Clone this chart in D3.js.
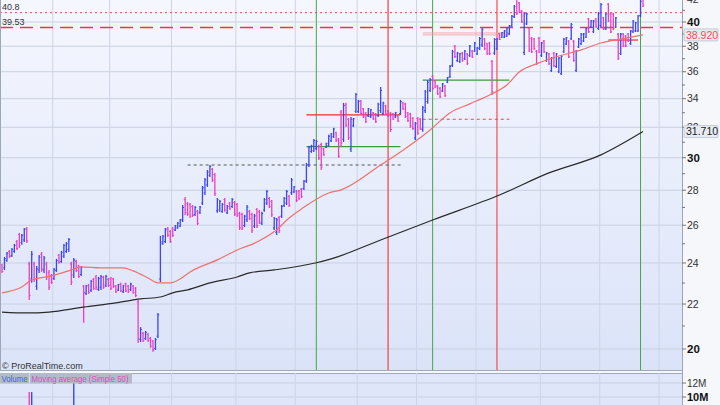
<!DOCTYPE html>
<html><head><meta charset="utf-8">
<script src="https://cdn.jsdelivr.net/npm/d3@7"></script>
<style>body{margin:0;background:#fff;}svg{display:block;font-family:"Liberation Sans",Arial,sans-serif;}</style>
</head><body><svg id="c" width="720" height="405"></svg>
<script>
const opens = [
23.90,23.75,24.12,24.60,24.38,24.60,25.10,25.50,25.05,25.20,
25.80,23.95,23.20,23.95,22.85,23.65,24.45,23.65,23.95,23.50,
23.38,23.22,23.62,24.40,24.08,24.35,24.60,24.70,23.95,23.40,
24.08,23.85,23.42,22.85,22.50,22.90,22.65,23.18,23.30,22.70,
22.80,23.28,22.90,23.18,23.22,23.20,22.86,22.66,22.95,22.58,
22.96,22.85,22.68,22.86,22.75,22.10,20.40,20.68,20.45,20.63,
20.45,20.33,20.02,20.55,23.20,25.00,25.12,25.82,25.66,25.80,
25.74,25.85,25.96,26.30,27.45,27.22,27.15,27.05,26.60,26.78,
26.70,27.25,27.85,28.32,28.90,29.28,28.95,26.80,26.85,26.76,
27.45,26.70,27.25,27.05,27.28,27.18,26.65,26.60,25.98,26.30,
26.78,26.60,25.95,26.88,26.75,26.10,26.85,27.25,27.52,27.35,
25.85,25.60,26.42,26.50,27.10,27.25,27.65,27.85,27.90,27.95,
27.95,28.06,28.10,
28.55,29.55,30.40,30.45,30.58,30.75,30.85,30.57,30.68,30.78,
31.10,31.36,31.62,31.20,33.05,31.20,33.60,32.55,30.55,32.10,
33.10,33.08,33.82,33.28,32.98,32.78,32.72,33.00,32.92,32.80,
33.15,32.95,33.48,33.14,32.98,32.92,32.70,32.78,32.95,33.70,
33.62,32.98,32.90,32.62,31.28,32.60,32.55,31.85,33.15,33.80,
34.60,35.65,35.30,34.92,34.76,34.56,34.92,35.22,35.62,36.50,
38.00,36.85,36.78,37.46,37.00,37.38,37.25,37.62,37.62,37.38,
37.80,38.10,38.58,38.18,38.25,36.80,37.45,37.80,39.02,38.72,
38.74,38.82,39.00,39.68,40.45,42.00,41.65,40.95,37.50,39.85,
39.48,38.65,38.58,37.60,38.65,37.25,38.42,36.85,37.38,36.08,
37.45,36.40,36.00,35.85,37.55,38.18,38.42,38.60,38.40,36.10,
37.94,38.20,38.42,38.74,40.25,39.58,39.18,40.26,39.45,39.70,
40.35,39.42,41.55,40.68,40.68,39.58,38.98,37.42,39.00,38.84,
39.00,38.20,39.18,39.25,39.25,40.55,42.20];
const highs = [
23.96,24.31,24.57,24.67,24.78,24.99,25.20,25.58,25.52,25.85,
25.90,24.06,24.62,24.06,23.85,24.41,24.57,24.36,24.06,23.65,
23.45,23.75,24.21,24.46,24.62,24.99,25.09,25.31,24.06,24.26,
24.16,23.91,23.85,22.91,22.91,22.96,23.15,23.25,23.40,23.30,
23.40,23.35,23.40,23.25,23.30,23.25,22.91,22.96,23.01,22.91,
23.01,22.91,23.01,22.91,22.81,22.19,20.95,20.73,20.78,20.69,
20.52,20.39,20.47,21.59,25.42,25.47,25.85,25.90,25.74,25.90,
26.01,26.18,26.35,27.14,27.60,27.31,27.26,27.14,27.08,26.86,
27.08,28.26,28.74,29.23,29.54,29.35,29.05,27.54,27.43,27.26,
27.54,27.14,27.31,27.54,27.37,27.26,26.75,26.69,26.58,27.14,
26.86,26.69,26.63,26.97,26.86,26.75,27.54,28.02,27.60,27.43,
26.46,26.40,26.52,27.14,27.60,28.02,27.72,28.74,28.26,28.02,
28.02,28.14,28.62,
29.67,30.76,30.83,31.22,31.15,30.83,30.96,30.63,30.96,31.49,
31.62,31.96,31.69,31.28,33.20,33.70,33.70,32.64,32.71,32.64,
34.41,33.91,33.91,33.34,33.06,33.34,33.27,33.06,32.99,33.70,
34.85,33.77,33.56,33.20,33.06,32.99,33.06,32.85,33.91,33.77,
33.70,33.06,32.99,32.71,32.36,32.71,32.64,33.48,34.63,35.37,
35.52,35.75,35.37,35.00,34.85,35.15,35.00,35.60,36.52,37.70,
38.10,37.54,37.46,37.54,37.70,37.46,38.10,37.70,38.34,37.94,
38.75,39.50,38.66,38.26,38.34,36.91,38.66,38.66,39.08,39.16,
39.33,39.58,39.75,40.60,41.47,42.18,41.73,41.03,40.86,40.77,
39.58,38.75,38.66,37.70,38.75,38.34,38.50,37.54,37.46,37.14,
37.54,37.46,37.14,37.30,38.66,38.75,38.50,39.92,38.50,37.70,
38.66,39.08,39.08,39.50,40.34,40.17,40.17,40.34,40.86,41.64,
40.43,40.77,41.64,40.77,40.77,40.43,39.08,39.08,39.08,38.92,
39.08,39.33,40.17,40.00,40.60,41.91,42.35];
const lows = [
23.50,23.65,24.06,24.26,24.31,24.52,24.67,24.78,24.94,25.09,
25.04,22.19,23.01,23.05,22.67,23.50,23.55,23.50,23.15,22.67,
22.96,23.15,23.55,23.96,24.01,24.26,24.52,24.57,22.91,23.25,
23.55,23.25,23.35,21.14,22.43,22.48,22.57,22.67,22.67,22.62,
22.67,22.72,22.81,22.81,22.67,22.77,22.52,22.62,22.57,22.52,
22.57,22.52,22.62,22.48,22.33,20.26,20.30,20.30,20.39,20.30,
20.05,19.88,19.96,20.47,23.05,24.94,25.04,25.36,25.04,25.36,
25.69,25.80,25.90,26.18,26.57,26.52,26.40,26.46,26.52,26.01,
26.63,27.14,27.72,28.20,28.80,28.50,27.66,26.69,26.75,26.69,
26.75,26.63,26.86,26.97,26.52,26.46,25.74,25.74,25.90,26.18,
26.29,25.58,25.85,25.85,26.07,26.01,26.75,27.14,26.97,26.46,
25.74,25.47,25.58,26.40,27.03,27.14,27.03,27.72,27.84,27.31,
27.43,27.54,28.02,
28.44,29.42,30.31,30.37,30.50,29.86,29.23,30.12,30.63,30.70,
31.02,31.28,31.02,29.99,30.70,31.02,32.02,31.15,30.37,32.02,
32.99,32.99,32.85,32.64,32.29,32.71,32.64,32.50,32.29,32.71,
32.99,32.85,32.85,32.71,31.69,32.50,32.64,32.36,32.85,33.20,
32.64,32.36,31.96,31.82,31.15,31.49,31.82,31.69,32.99,33.63,
34.48,34.63,34.78,34.27,34.05,34.48,34.12,35.15,35.52,36.37,
37.06,36.76,36.68,36.76,36.91,36.52,37.14,37.06,37.54,37.30,
37.70,37.94,37.70,37.30,37.30,34.27,37.30,37.70,38.50,38.66,
38.66,38.75,38.92,39.58,40.34,40.60,40.77,39.92,37.30,39.75,
37.54,37.46,37.70,36.52,37.46,37.14,37.46,36.76,36.52,35.98,
36.37,36.29,35.90,35.75,37.46,38.10,37.06,38.50,36.76,35.98,
37.86,38.10,38.34,38.66,39.08,39.50,39.08,39.50,39.33,39.58,
39.33,39.33,40.00,39.08,39.33,39.50,36.91,37.30,37.94,37.94,
38.34,38.10,39.08,39.16,39.16,40.43,41.30];
const closes = [
23.58,24.22,24.50,24.33,24.70,24.92,24.75,24.90,25.45,25.78,
25.15,22.40,24.45,23.20,23.70,24.30,23.70,24.25,23.30,22.80,
23.02,23.68,24.12,24.02,24.55,24.90,25.00,25.22,23.05,24.15,
23.62,23.32,23.78,22.55,22.85,22.55,23.08,22.75,22.80,23.22,
23.32,22.80,23.33,22.88,22.75,22.85,22.58,22.92,22.63,22.86,
22.62,22.58,22.95,22.55,22.40,20.45,20.85,20.36,20.72,20.36,
20.12,19.95,20.40,21.50,25.10,25.40,25.75,25.45,25.12,25.45,
25.96,26.12,26.28,27.00,26.70,26.62,26.50,26.55,27.00,26.10,
27.02,28.15,28.62,29.10,29.45,28.60,27.80,27.45,27.35,27.18,
26.85,27.06,26.92,27.46,26.62,26.55,25.85,25.85,26.50,27.02,
26.36,25.70,26.52,25.98,26.18,26.66,27.45,27.92,27.05,26.58,
26.38,26.30,25.70,27.05,27.52,27.92,27.12,28.62,28.20,27.40,
27.50,27.62,28.55,
29.55,30.65,30.75,31.12,31.06,29.98,29.40,30.18,30.92,31.40,
31.55,31.88,31.10,30.10,30.95,33.50,32.15,31.30,32.55,32.58,
34.30,33.82,32.95,32.72,32.38,33.28,33.20,32.56,32.38,33.60,
34.60,33.68,32.92,32.78,31.85,32.56,33.00,32.42,33.80,33.28,
32.75,32.45,32.08,31.92,32.25,31.60,31.92,33.35,34.50,35.20,
35.40,34.75,34.85,34.35,34.14,35.08,34.22,35.54,36.40,37.55,
37.18,37.45,37.38,36.85,37.62,36.62,38.00,37.14,38.25,37.86,
38.62,39.35,37.80,37.40,37.40,34.50,38.55,38.58,38.56,39.10,
39.25,39.50,39.66,40.50,41.35,40.75,40.85,40.00,40.70,40.68,
37.70,37.55,37.80,36.62,37.55,38.25,37.55,37.46,36.62,37.05,
36.46,37.38,37.05,37.20,38.56,38.68,37.15,39.80,36.88,37.60,
38.58,38.98,39.00,39.42,39.18,40.10,40.08,39.58,40.75,41.50,
39.42,40.68,40.10,39.18,39.42,40.35,37.05,38.98,38.02,38.02,
38.42,39.25,40.08,39.92,40.50,41.80,41.40];

const ma50Idx = [0,8,12,20,28,32,40,49,53,59,63,68,72,76,87,95,103,111,116,121,132,137,153,161,173,181,189,197,204,209,217,225,234,242,250,259];
const ma50Val = [22.53,22.81,23.15,23.35,23.65,23.80,23.75,23.75,23.60,23.25,23.01,23.01,23.20,23.55,24.16,24.67,25.09,25.75,26.40,26.91,27.84,28.02,29.54,30.37,31.82,32.99,33.63,34.27,35.00,35.98,36.68,37.22,37.70,38.26,38.58,38.92];
const ma200Idx = [0,10,19,33,46,56,64,69,75,84,95,100,110,127,133,153,174,201,221,242,259];
const ma200Val = [21.63,21.59,21.63,21.86,22.05,22.24,22.33,22.53,22.67,23.01,23.30,23.50,23.65,24.01,24.21,25.20,26.29,27.72,29.05,30.18,31.71];

const volIdx = [11,12,29];
const volVal = [10.7e6,10.7e6,13.4e6];

const priceTicks = d3.range(20,43);
const monthStarts = [21,44,69,95,119,144,168,192,218,242,266];
const eventIdx = [127,156,174,200,258];
const eventKind = ["green","red2","green","red","green"];
const segStart = [75,123,123,170,170,170,170,245];
const segEnd   = [162,161,161,205,205,205,205,257];
const segPrice = [29.54,30.71,32.85,35.37,32.55,39.08,38.92,38.50];
const segStyle = ["graydash","green","red","green","reddash","lightred","lightred","red"];
const fullLevels = [40.8,39.53];
const lastMa50 = "38.920", lastMa200 = "31.710";

const svg = d3.select("#c");
const W = 720, plotR = 682, priceB = 370, volT = 373, volB = 405;
const x = d3.scaleLinear().domain([0,259]).range([2,643]);
const y = d3.scaleLog().domain([20,40]).range([349,22]);
const yv = d3.scaleLinear().domain([10e6,12e6]).range([397,383]);

const defs = svg.append("defs");
const g1 = defs.append("linearGradient").attr("id","bg").attr("x1",0).attr("y1",0).attr("x2",0).attr("y2",1);
g1.append("stop").attr("offset","0%").attr("stop-color","#f5f7fe");
g1.append("stop").attr("offset","100%").attr("stop-color","#dbe3f9");
defs.append("clipPath").attr("id","cp").append("rect").attr("x",0).attr("y",0).attr("width",plotR).attr("height",priceB);
defs.append("clipPath").attr("id","cv").append("rect").attr("x",0).attr("y",volT).attr("width",plotR).attr("height",volB-volT);

svg.append("rect").attr("width",W).attr("height",405).attr("fill","#f6f7fa");
svg.append("rect").attr("x",0).attr("y",0).attr("width",plotR).attr("height",priceB).attr("fill","url(#bg)");
svg.append("rect").attr("x",0).attr("y",volT).attr("width",plotR).attr("height",volB-volT).attr("fill","#dfe6fa");

const P = svg.append("g").attr("clip-path","url(#cp)");
P.selectAll(".hg").data(priceTicks.filter(d=>d%2===0)).join("line")
 .attr("x1",0).attr("x2",plotR).attr("y1",d=>y(d)).attr("y2",d=>y(d))
 .attr("stroke","#c9d0e0").attr("stroke-width",1);
P.selectAll(".vg").data(monthStarts).join("line")
 .attr("x1",d=>x(d-0.5)).attr("x2",d=>x(d-0.5)).attr("y1",0).attr("y2",priceB)
 .attr("stroke","#cdd4e5").attr("stroke-width",1);

P.append("line").attr("x1",0).attr("x2",plotR).attr("y1",y(fullLevels[0])).attr("y2",y(fullLevels[0]))
 .attr("stroke","#f04848").attr("stroke-width",1).attr("stroke-dasharray","2,3");
P.append("line").attr("x1",0).attr("x2",plotR).attr("y1",y(fullLevels[1])).attr("y2",y(fullLevels[1]))
 .attr("stroke","#ff3535").attr("stroke-width",1.5).attr("stroke-dasharray","13,7");

const evColor = {green:"#4aa34a", red2:"#f24d4d", red:"#ff2a2a"};
const evWidth = {green:1, red2:1.3, red:1};
P.selectAll(".ev").data(eventIdx).join("line")
 .attr("x1",d=>x(d)).attr("x2",d=>x(d)).attr("y1",0).attr("y2",priceB)
 .attr("stroke",(d,i)=>evColor[eventKind[i]]).attr("stroke-width",(d,i)=>evWidth[eventKind[i]]);

const segSty = {
 graydash:{c:"#555",w:1.2,d:"3,3"}, green:{c:"#3c9c3c",w:1.2,d:null}, red:{c:"#f02a2a",w:1.2,d:null},
 reddash:{c:"#f04040",w:1.2,d:"3,3"}, lightred:{c:"#f5a0a0",w:0.9,d:null}};
segStart.forEach((s,i)=>{
  const st = segSty[segStyle[i]];
  P.append("line").attr("x1",x(s)).attr("x2",x(segEnd[i])).attr("y1",y(segPrice[i])).attr("y2",y(segPrice[i]))
   .attr("stroke",st.c).attr("stroke-width",st.w).attr("stroke-dasharray",st.d);
});

const bars = P.append("g");
const up = "#3c45f2", dn = "#f03cbe";
opens.forEach((o,i)=>{
  const c = closes[i] >= o ? up : dn;
  const xi = x(i);
  bars.append("line").attr("x1",xi).attr("x2",xi).attr("y1",y(highs[i])).attr("y2",y(lows[i])).attr("stroke",c).attr("stroke-width",1.3);
  bars.append("line").attr("x1",xi-1.3).attr("x2",xi).attr("y1",y(o)).attr("y2",y(o)).attr("stroke",c).attr("stroke-width",1);
  bars.append("line").attr("x1",xi).attr("x2",xi+1.3).attr("y1",y(closes[i])).attr("y2",y(closes[i])).attr("stroke",c).attr("stroke-width",1);
});

const ln = d3.line().x(d=>x(d[0])).y(d=>y(d[1])).curve(d3.curveMonotoneX);
P.append("path").attr("d",ln(ma200Idx.map((d,i)=>[d,ma200Val[i]]))).attr("fill","none").attr("stroke","#2a2a2a").attr("stroke-width",1.2);
P.append("path").attr("d",ln(ma50Idx.map((d,i)=>[d,ma50Val[i]]))).attr("fill","none").attr("stroke","#f07070").attr("stroke-width",1.2);

svg.append("text").attr("x",2).attr("y",y(fullLevels[0])-3).attr("font-size",9).attr("fill","#333").text("40.8");
svg.append("text").attr("x",2).attr("y",y(fullLevels[1])-3).attr("font-size",9).attr("fill","#333").text("39.53");
svg.append("text").attr("x",2).attr("y",369).attr("font-size",9).attr("fill","#333").text("\u00a9 ProRealTime.com");

svg.append("line").attr("x1",0.5).attr("x2",0.5).attr("y1",0).attr("y2",priceB).attr("stroke","#9aa8b8");
svg.append("line").attr("x1",plotR+0.5).attr("x2",plotR+0.5).attr("y1",0).attr("y2",405).attr("stroke","#9aa6b8");
svg.append("line").attr("x1",0).attr("x2",plotR).attr("y1",priceB+0.5).attr("y2",priceB+0.5).attr("stroke","#a0a9ba");
svg.append("line").attr("x1",0).attr("x2",plotR).attr("y1",volT+0.5).attr("y2",volT+0.5).attr("stroke","#a0a9ba");

const ax = svg.append("g");
ax.selectAll(".tk").data(priceTicks).join("line")
 .attr("x1",plotR).attr("x2",d=>d%2===0?plotR+4:plotR+3).attr("y1",d=>y(d)).attr("y2",d=>y(d)).attr("stroke","#777");
ax.selectAll(".tl").data(priceTicks.filter(d=>d%2===0)).join("text")
 .attr("x",plotR+5).attr("y",d=>y(d)).attr("dy","0.35em")
 .attr("font-size",d=>d%10===0?11.5:10.5).attr("font-weight",d=>d%10===0?"bold":"normal")
 .attr("fill",d=>d%10===0?"#111":"#333").text(d=>d);

function vbox(val, txt, col){
  const yy = y(val);
  svg.append("rect").attr("x",684).attr("y",yy-6).attr("width",34).attr("height",12)
   .attr("fill","#e8ecf2").attr("stroke","#b8c2cf").attr("stroke-width",0.8).attr("rx",1);
  svg.append("text").attr("x",686).attr("y",yy).attr("dy","0.35em").attr("font-size",10.5).attr("fill",col).text(txt);
}
vbox(ma50Val[ma50Val.length-1], lastMa50, "#f05050");
vbox(ma200Val[ma200Val.length-1], lastMa200, "#222");

const V = svg.append("g").attr("clip-path","url(#cv)");
V.selectAll(".vh").data([10e6,12e6]).join("line").attr("x1",0).attr("x2",plotR).attr("y1",d=>yv(d)).attr("y2",d=>yv(d)).attr("stroke","#c9d0e0");
V.selectAll(".vv").data(monthStarts).join("line")
 .attr("x1",d=>x(d-0.5)).attr("x2",d=>x(d-0.5)).attr("y1",volT).attr("y2",volB).attr("stroke","#cdd4e5");
V.selectAll(".vb").data(volIdx).join("line")
 .attr("x1",d=>x(d)).attr("x2",d=>x(d)).attr("y1",(d,i)=>yv(volVal[i])).attr("y2",volB)
 .attr("stroke",d=>closes[d]>=opens[d]?up:dn).attr("stroke-width",1.4);
svg.append("rect").attr("x",0).attr("y",volT).attr("width",132).attr("height",10.5).attr("fill","#b2bcc7");
svg.append("line").attr("x1",29.5).attr("x2",29.5).attr("y1",volT).attr("y2",volT+10.5).attr("stroke","#d8dee6");
svg.append("text").attr("x",1.5).attr("y",volT+8.5).attr("font-size",9).attr("fill","#3d5cf5")
 .attr("textLength",26).attr("lengthAdjust","spacingAndGlyphs").text("Volume");
svg.append("text").attr("x",31.5).attr("y",volT+8.5).attr("font-size",9).attr("fill","#e24ac6")
 .attr("textLength",97).attr("lengthAdjust","spacingAndGlyphs").text("Moving average (Simple 50)");
[12e6,10e6].forEach(v=>{
  svg.append("line").attr("x1",plotR).attr("x2",plotR+4).attr("y1",yv(v)).attr("y2",yv(v)).attr("stroke","#777");
  svg.append("text").attr("x",plotR+5).attr("y",yv(v)).attr("dy","0.35em")
   .attr("font-size",v===10e6?11:10).attr("font-weight",v===10e6?"bold":"normal").attr("fill",v===10e6?"#111":"#333")
   .text(d3.format("d")(v/1e6)+"M");
});
</script></body></html>
